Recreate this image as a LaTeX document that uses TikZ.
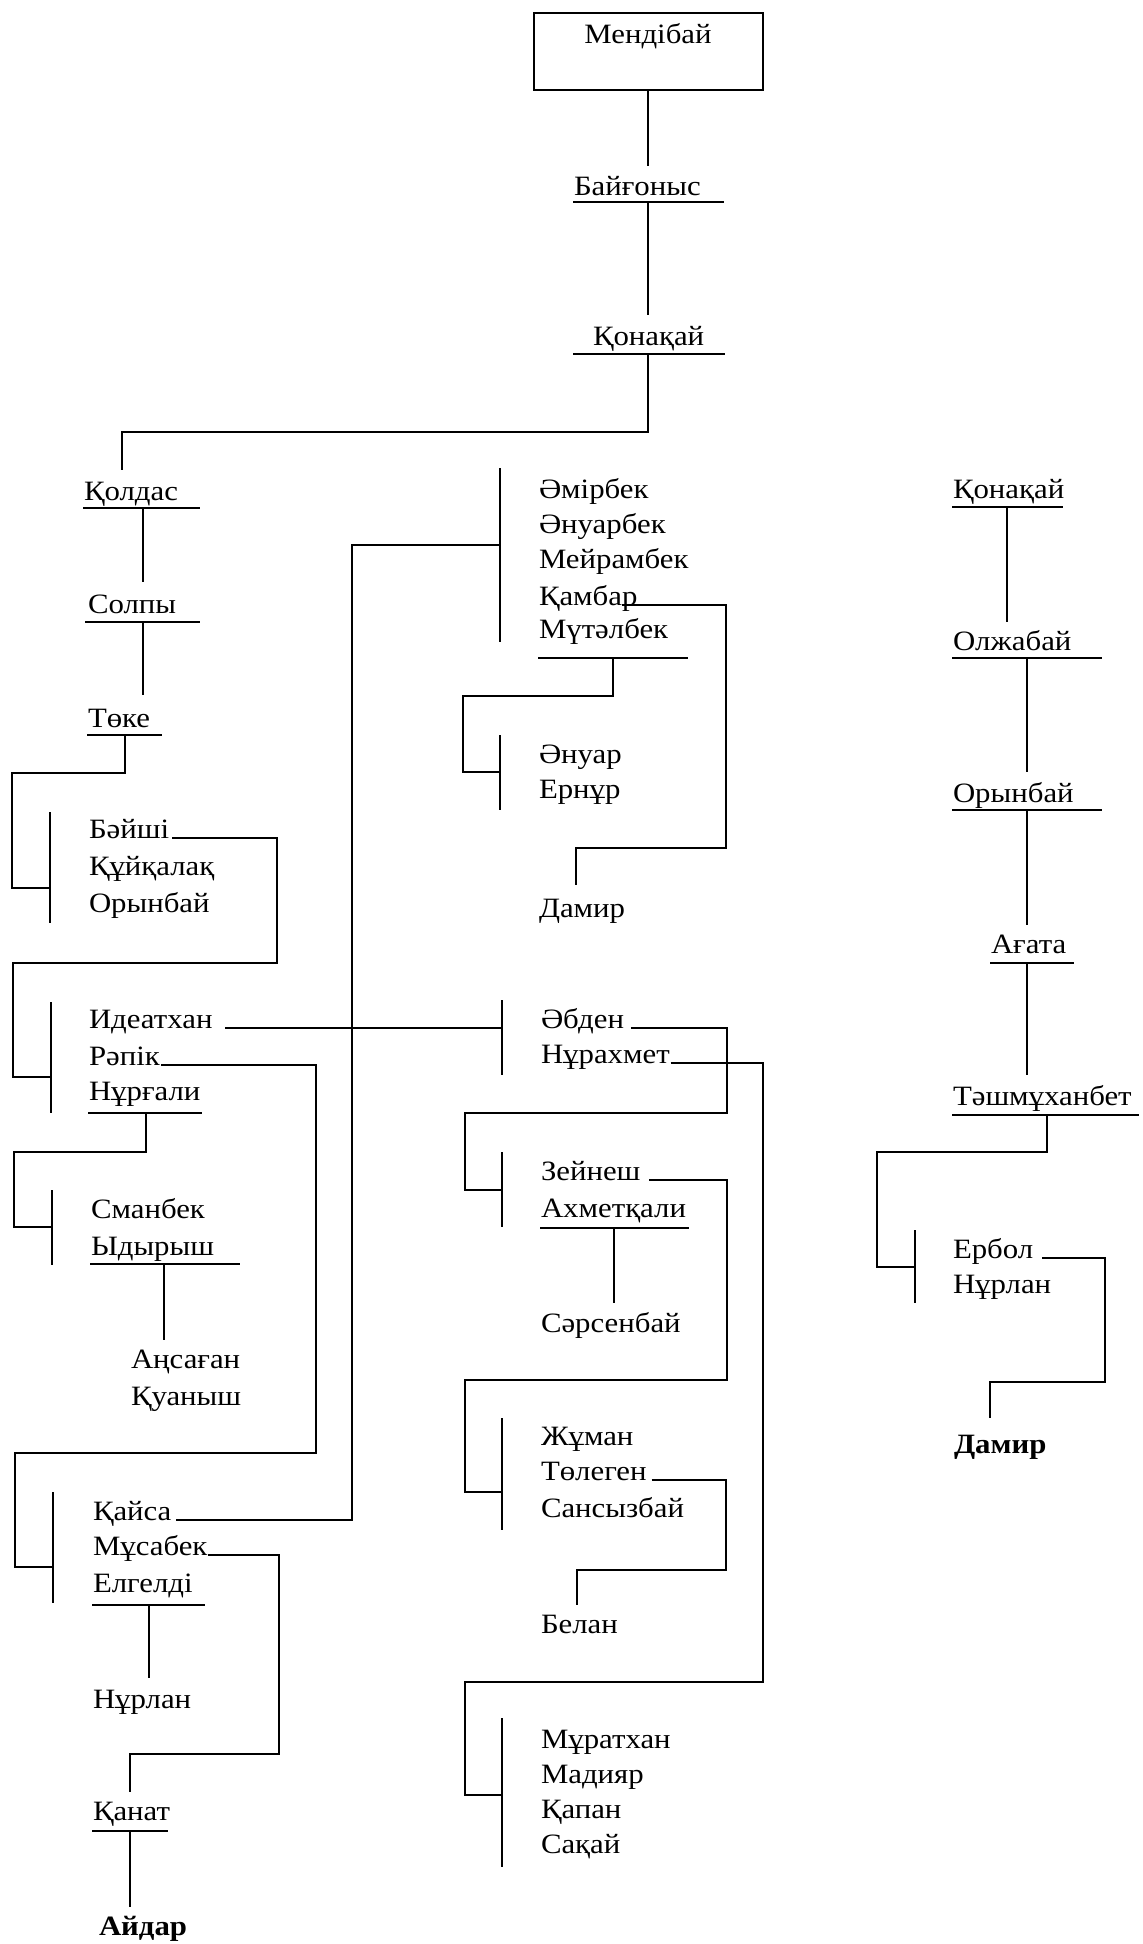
\documentclass[tikz,border=0pt]{standalone}
\usepackage{fontspec}
\setmainfont{Liberation Serif}[FakeStretch=1.1]
\usetikzlibrary{calc}

\begin{document}
\begin{tikzpicture}[x=0.5pt,y=-0.5pt,line width=1pt,
 nm/.style={anchor=base west,inner sep=0pt,font=\fontsize{14}{17}\selectfont},
 bnm/.style={nm,font=\fontsize{14}{17}\selectfont\bfseries},
 rootbox/.style={draw,anchor=base,inner xsep=0pt,inner ysep=0pt,minimum width=114.5pt,
   text height=15pt,text depth=23.5pt,font=\fontsize{14}{17}\selectfont}]
\useasboundingbox[fill=white] (0,0) rectangle (1143,1944);
% root
\node[rootbox] (mendibay) at (648,43) {Мендібай};
\node[nm] (baygonys) at (573,195) {Байғоныс};
\node[nm] (konakay) at (592,345) {Қонақай};
\draw (mendibay.south) -- (648,166);
\draw (573,202) -- (724,202) (648,202) -- (648,315);
\draw (573,354) -- (725,354) (648,354) |- (122,432) -- (122,470);
% left branch
\node[nm] (koldas) at (83,500) {Қолдас};
\node[nm] (solpy) at (87,613) {Солпы};
\node[nm] (toke) at (87,727) {Төке};
\draw (83,508) -- (200,508) (143,508) -- (143,582);
\draw (85,622) -- (200,622) (143,622) -- (143,695);
\draw (87,735) -- (162,735) (125,735) |- (12,773) |- (50,888);
\draw (50,812) -- (50,923);
\node[nm] (bayshi) at (88,838) {Бәйші};
\node[nm] (kuykalak) at (88,875) {Құйқалақ};
\node[nm] (orynbay) at (88,912) {Орынбай};
\draw ([xshift=1pt]bayshi.base east) -| (277,963) -| (13,1077) -- (51,1077);
\draw (51,1002) -- (51,1113);
\node[nm] (ideatkhan) at (88,1028) {Идеатхан};
\node[nm] (rapik) at (88,1065) {Рәпік};
\node[nm] (nurgali) at (88,1100) {Нұрғали};
\draw (88,1113) -- (202,1113) (146,1113) |- (14,1152) |- (52,1227);
\draw ([xshift=6pt]ideatkhan.base east) -- (502,1028);
\draw (rapik.base east) -| (316,1453) -| (15,1567) -- (53,1567);
\draw (52,1190) -- (52,1265);
\node[nm] (smanbek) at (90,1218) {Сманбек};
\node[nm] (ydyrysh) at (90,1255) {Ыдырыш};
\draw (90,1264) -- (240,1264) (164,1264) -- (164,1340);
\node[nm] (ansagan) at (130,1368) {Аңсаған};
\node[nm] (kuanysh) at (130,1405) {Қуаныш};
\draw (53,1492) -- (53,1603);
\node[nm] (kaysa) at (92,1520) {Қайса};
\node[nm] (musabek) at (92,1555) {Мұсабек};
\node[nm] (elgeldi) at (92,1592) {Елгелді};
\draw (92,1605) -- (205,1605) (149,1605) -- (149,1678);
\node[nm] (nurlan) at (92,1708) {Нұрлан};
\draw ([xshift=2pt]kaysa.base east) -| (352,545) -- (500,545);
\draw (musabek.base east) -| (279,1754) -| (130,1792);
\node[nm] (kanat) at (92,1820) {Қанат};
\draw (92,1831) -- (168,1831) (130,1831) -- (130,1907);
\node[bnm] (aydar) at (98,1935) {Айдар};
% middle branch
\draw (500,468) -- (500,642);
\node[nm] (amirbek) at (538,498) {Әмірбек};
\node[nm] (anuarbek) at (538,533) {Әнуарбек};
\node[nm] (meyrambek) at (538,568) {Мейрамбек};
\node[nm] (kambar) at (538,605) {Қамбар};
\node[nm] (mutalbek) at (538,638) {Мүтәлбек};
\draw (538,658) -- (688,658) (613,658) |- (463,696) |- (500,772);
\draw ([xshift=-8pt]kambar.base east) -| (726,848) -| (576,885);
\draw (500,735) -- (500,810);
\node[nm] (anuar) at (538,763) {Әнуар};
\node[nm] (ernur) at (538,798) {Ернұр};
\node[nm] (damir) at (538,917) {Дамир};
\draw (502,1000) -- (502,1075);
\node[nm] (abden) at (540,1028) {Әбден};
\node[nm] (nurakhmet) at (540,1063) {Нұрахмет};
\draw ([xshift=3pt]abden.base east) -| (727,1113) -| (465,1190) -- (502,1190);
\draw (nurakhmet.base east) -| (763,1682) -| (465,1795) -- (502,1795);
\draw (502,1152) -- (502,1227);
\node[nm] (zeynesh) at (540,1180) {Зейнеш};
\node[nm] (akhmetkali) at (540,1217) {Ахметқали};
\draw (540,1228) -- (689,1228) (614,1228) -- (614,1303);
\node[nm] (sarsenbay) at (540,1332) {Сәрсенбай};
\draw ([xshift=4pt]zeynesh.base east) -| (727,1380) -| (465,1492) -- (502,1492);
\draw (502,1418) -- (502,1530);
\node[nm] (zhuman) at (540,1445) {Жұман};
\node[nm] (tolegen) at (540,1480) {Төлеген};
\node[nm] (sansyzbay) at (540,1517) {Сансызбай};
\draw ([xshift=2pt]tolegen.base east) -| (726,1570) -| (577,1605);
\node[nm] (belan) at (540,1633) {Белан};
\draw (502,1718) -- (502,1867);
\node[nm] (muratkhan) at (540,1748) {Мұратхан};
\node[nm] (madiyar) at (540,1783) {Мадияр};
\node[nm] (kapan) at (540,1818) {Қапан};
\node[nm] (sakay) at (540,1853) {Сақай};
% right branch
\node[nm] (rkonakay) at (952,498) {Қонақай};
\draw (952,507) -- (1063,507) (1007,507) -- (1007,622);
\node[nm] (olzhabay) at (952,650) {Олжабай};
\draw (952,658) -- (1102,658) (1027,658) -- (1027,772);
\node[nm] (rorynbay) at (952,802) {Орынбай};
\draw (952,810) -- (1102,810) (1027,810) -- (1027,925);
\node[nm] (agata) at (990,953) {Ағата};
\draw (990,963) -- (1074,963) (1027,963) -- (1027,1075);
\node[nm] (tashmukhanbet) at (952,1105) {Тәшмұханбет};
\draw (952,1115) -- (1139,1115) (1047,1115) |- (877,1152) |- (915,1267);
\draw (915,1230) -- (915,1303);
\node[nm] (erbol) at (952,1258) {Ербол};
\node[nm] (rnurlan) at (952,1293) {Нұрлан};
\draw ([xshift=4pt]erbol.base east) -| (1105,1382) -| (990,1418);
\node[bnm] (rdamir) at (953,1453) {Дамир};
\end{tikzpicture}
\end{document}
